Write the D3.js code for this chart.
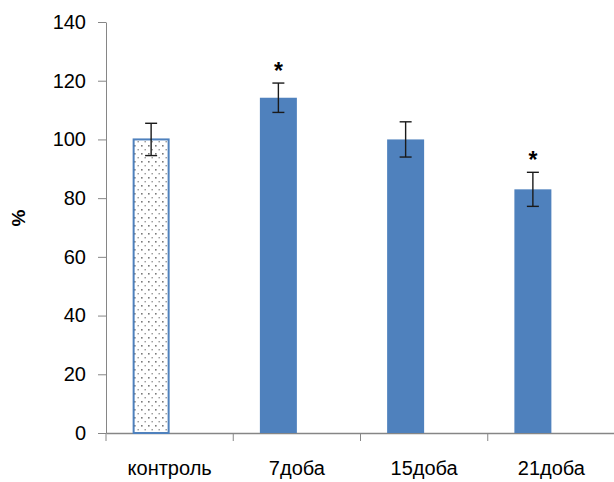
<!DOCTYPE html>
<html>
<head>
<meta charset="utf-8">
<script src="https://cdn.jsdelivr.net/npm/d3@7"></script>
<style>
  html, body { margin: 0; padding: 0; background: #fff; }
  svg { display: block; font-family: "Liberation Sans", Arial, sans-serif; }
</style>
</head>
<body>
<svg id="chart" width="614" height="482"></svg>
<script>
// Relative level, % of control, with standard error
const categories = ["контроль", "7доба", "15доба", "21доба"];
const values = [100, 114.2, 100, 83];
const errors = [5.5, 5, 6, 5.8];
const significant = [false, true, false, true];
const yTicks = [0, 20, 40, 60, 80, 100, 120, 140];
const seriesSlots = ["main", "spare"];

const svg = d3.select("#chart");
const margin = { left: 106, right: 0, top: 22, bottom: 49 };
const W = 614, H = 482;

const x = d3.scaleBand().domain(categories).range([margin.left, W - margin.right + 1]);
const inner = d3.scaleBand().domain(seriesSlots).range([0, x.bandwidth()]).paddingOuter(0.72);
const y = d3.scaleLinear().domain([0, 140]).range([H - margin.bottom, margin.top]);

// dotted fill for the control column
const defs = svg.append("defs");
const pat = defs.append("pattern")
  .attr("id", "dots").attr("patternUnits", "userSpaceOnUse")
  .attr("width", 7).attr("height", 8);
pat.append("rect").attr("width", 7).attr("height", 8).attr("fill", "#fff");
pat.append("rect").attr("x", 1).attr("y", 1).attr("width", 1.6).attr("height", 1.6).attr("fill", "#7a7a7a");
pat.append("rect").attr("x", 4.5).attr("y", 5).attr("width", 1.4).attr("height", 1.4).attr("fill", "#959595");

// y axis
const yAxis = svg.append("g")
  .attr("transform", `translate(${margin.left},0)`)
  .call(d3.axisLeft(y).tickValues(yTicks).tickSize(8).tickPadding(12).tickSizeOuter(0));
yAxis.select(".domain").attr("stroke", "#868686");
yAxis.selectAll(".tick line").attr("stroke", "#868686");
yAxis.selectAll(".tick text").attr("font-size", 20).attr("fill", "#000");

// x axis
const xAxis = svg.append("g")
  .attr("transform", `translate(0,${y(0)})`)
  .call(d3.axisBottom(x).tickSize(0).tickPadding(28).tickSizeOuter(0));
xAxis.select(".domain").attr("stroke", "#868686").attr("stroke-width", 1.3);
xAxis.selectAll(".tick text").attr("font-size", 20).attr("fill", "#000");
// category separators below the axis
svg.append("g").selectAll("line")
  .data(categories)
  .join("line")
  .attr("x1", d => x(d)).attr("x2", d => x(d))
  .attr("y1", y(0)).attr("y2", y(0) + 8)
  .attr("stroke", "#868686");

// bars
svg.append("g").selectAll("rect")
  .data(categories)
  .join("rect")
  .attr("x", (d, i) => x(d) + inner("main") + (i === 0 ? 1 : 0))
  .attr("width", (d, i) => inner.bandwidth() - (i === 0 ? 2 : 0))
  .attr("y", (d, i) => y(values[i]))
  .attr("height", (d, i) => y(0) - y(values[i]))
  .attr("fill", (d, i) => i === 0 ? "url(#dots)" : "#4F81BD")
  .attr("stroke", (d, i) => i === 0 ? "#4F81BD" : "none")
  .attr("stroke-width", 2);

// error bars
const cx = d => x(d) + inner("main") + inner.bandwidth() / 2;
const eb = svg.append("g").attr("stroke", "#1a1a1a").attr("stroke-width", 1.4);
categories.forEach((c, i) => {
  const hi = y(values[i] + errors[i]), lo = y(values[i] - errors[i]);
  eb.append("line").attr("x1", cx(c)).attr("x2", cx(c)).attr("y1", hi).attr("y2", lo);
  eb.append("line").attr("x1", cx(c) - 6).attr("x2", cx(c) + 6).attr("y1", hi).attr("y2", hi);
  eb.append("line").attr("x1", cx(c) - 6).attr("x2", cx(c) + 6).attr("y1", lo).attr("y2", lo);
});

// significance marks
svg.append("g").selectAll("text")
  .data(categories.filter((c, i) => significant[i]))
  .join("text")
  .attr("x", d => cx(d))
  .attr("y", d => y(values[categories.indexOf(d)] + errors[categories.indexOf(d)]) - 4)
  .attr("text-anchor", "middle")
  .attr("font-size", 23).attr("font-weight", "bold")
  .text("*");

// y title
svg.append("text")
  .attr("transform", "translate(25,218) rotate(-90)")
  .attr("text-anchor", "middle")
  .attr("font-size", 19).attr("font-weight", "bold")
  .text("%");
</script>
</body>
</html>
